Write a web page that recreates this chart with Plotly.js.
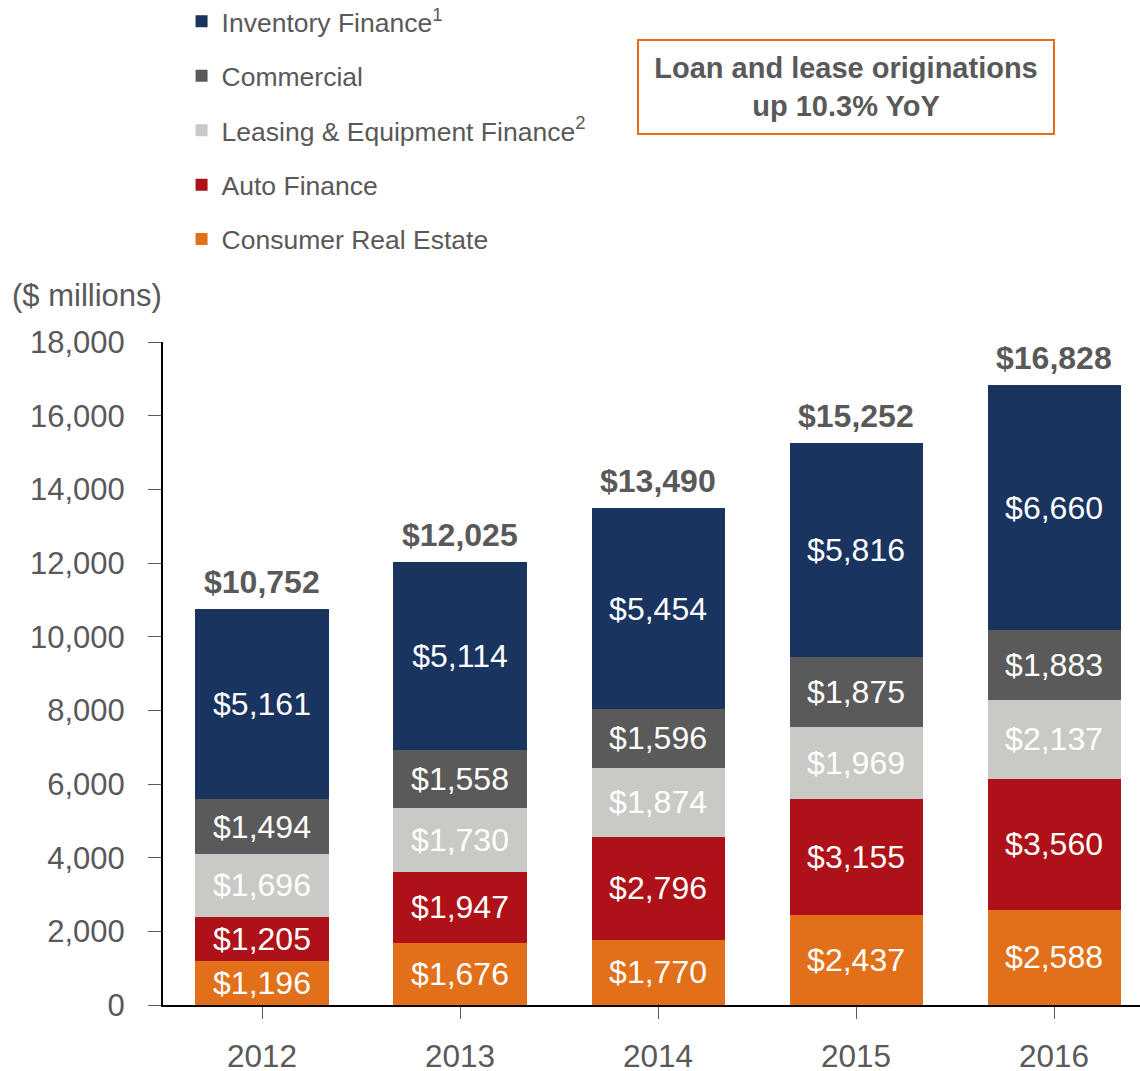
<!DOCTYPE html>
<html>
<head>
<meta charset="utf-8">
<script src="https://cdn.plot.ly/plotly-3.0.1.min.js"></script>
<style>
  html, body { margin: 0; padding: 0; background: #fff; }
  #chart { width: 1140px; height: 1071px; }
</style>
</head>
<body>
<div id="chart"></div>
<script>
const years = ['2012', '2013', '2014', '2015', '2016'];
const consumerRealEstate = [1196, 1676, 1770, 2437, 2588];
const autoFinance = [1205, 1947, 2796, 3155, 3560];
const leasingEquipment = [1696, 1730, 1874, 1969, 2137];
const commercial = [1494, 1558, 1596, 1875, 1883];
const inventoryFinance = [5161, 5114, 5454, 5816, 6660];
const totals = [10752, 12025, 13490, 15252, 16828];
const yTicks = [0, 2000, 4000, 6000, 8000, 10000, 12000, 14000, 16000, 18000];

const FONT = 'Liberation Sans, Arial, sans-serif';
const GRAY = '#595959';

const series = [
  {name: 'Consumer Real Estate', y: consumerRealEstate, color: '#E2701A', rank: 5},
  {name: 'Auto Finance', y: autoFinance, color: '#AE1118', rank: 4},
  {name: 'Leasing &amp; Equipment Finance<sup>2</sup>', y: leasingEquipment, color: '#C9C9C5', rank: 3},
  {name: 'Commercial', y: commercial, color: '#5A5A5A', rank: 2},
  {name: 'Inventory Finance<sup>1</sup>', y: inventoryFinance, color: '#19345F', rank: 1}
];

const traces = series.map((s, i) => ({
  type: 'bar',
  name: s.name,
  x: years,
  y: s.y,
  width: 0.672,
  legendgroup: 'g' + i,
  legendrank: s.rank,
  marker: {color: s.color, line: {width: 0}},
  texttemplate: '$%{y:,}',
  textposition: 'inside',
  insidetextanchor: 'middle',
  textangle: 0,
  constraintext: 'none',
  insidetextfont: {family: FONT, size: 32, color: '#ffffff'},
  hoverinfo: 'skip'
}));

const annotations = years.map((yr, i) => ({
  x: i, y: totals[i], xref: 'x', yref: 'y',
  text: '<b>$' + totals[i].toLocaleString('en-US') + '</b>',
  showarrow: false, xanchor: 'center', yanchor: 'bottom', yshift: 7,
  font: {family: FONT, size: 32, color: GRAY}
}));

annotations.push({
  xref: 'paper', yref: 'paper', x: 0.699, y: 1.3846,
  xanchor: 'center', yanchor: 'middle',
  text: '<b>Loan and lease originations<br>up 10.3% YoY</b>',
  showarrow: false,
  width: 414, height: 92,
  bordercolor: '#E2701A', borderwidth: 2, borderpad: 0,
  bgcolor: '#ffffff',
  font: {family: FONT, size: 29, color: GRAY}
});

annotations.push({
  xref: 'paper', yref: 'paper', x: -0.157, y: 1.07,
  xanchor: 'left', yanchor: 'middle',
  text: '($ millions)', showarrow: false,
  font: {family: FONT, size: 31, color: GRAY}
});

const layout = {
  width: 1140, height: 1071,
  margin: {l: 163, r: 0, t: 342, b: 66, pad: 0, autoexpand: false},
  paper_bgcolor: '#ffffff', plot_bgcolor: '#ffffff',
  barmode: 'stack',
  bargap: 0.328,
  font: {family: FONT, color: GRAY},
  showlegend: true,
  legend: {
    x: 0.019, y: 1.5195, xanchor: 'left', yanchor: 'top',
    traceorder: 'grouped', tracegroupgap: 17,
    font: {family: FONT, size: 26.5, color: GRAY},
    bgcolor: 'rgba(0,0,0,0)', borderwidth: 0
  },
  xaxis: {
    type: 'category',
    range: [-0.5, 4.434],
    showline: true, linecolor: '#000000', linewidth: 2,
    ticks: 'outside', ticklen: 12, tickcolor: GRAY, tickwidth: 1,
    tickfont: {family: FONT, size: 31.5, color: GRAY},
    ticklabelstandoff: 10,
    showgrid: false, zeroline: false, fixedrange: true
  },
  yaxis: {
    range: [0, 18000],
    tickvals: yTicks,
    tickformat: ',d',
    showline: true, linecolor: '#000000', linewidth: 2,
    ticks: 'outside', ticklen: 13, tickcolor: GRAY, tickwidth: 1,
    tickfont: {family: FONT, size: 31, color: GRAY},
    ticklabelstandoff: 17,
    showgrid: false, zeroline: false, fixedrange: true
  },
  annotations: annotations
};

Plotly.newPlot('chart', traces, layout, {staticPlot: true, displayModeBar: false});
</script>
</body>
</html>
